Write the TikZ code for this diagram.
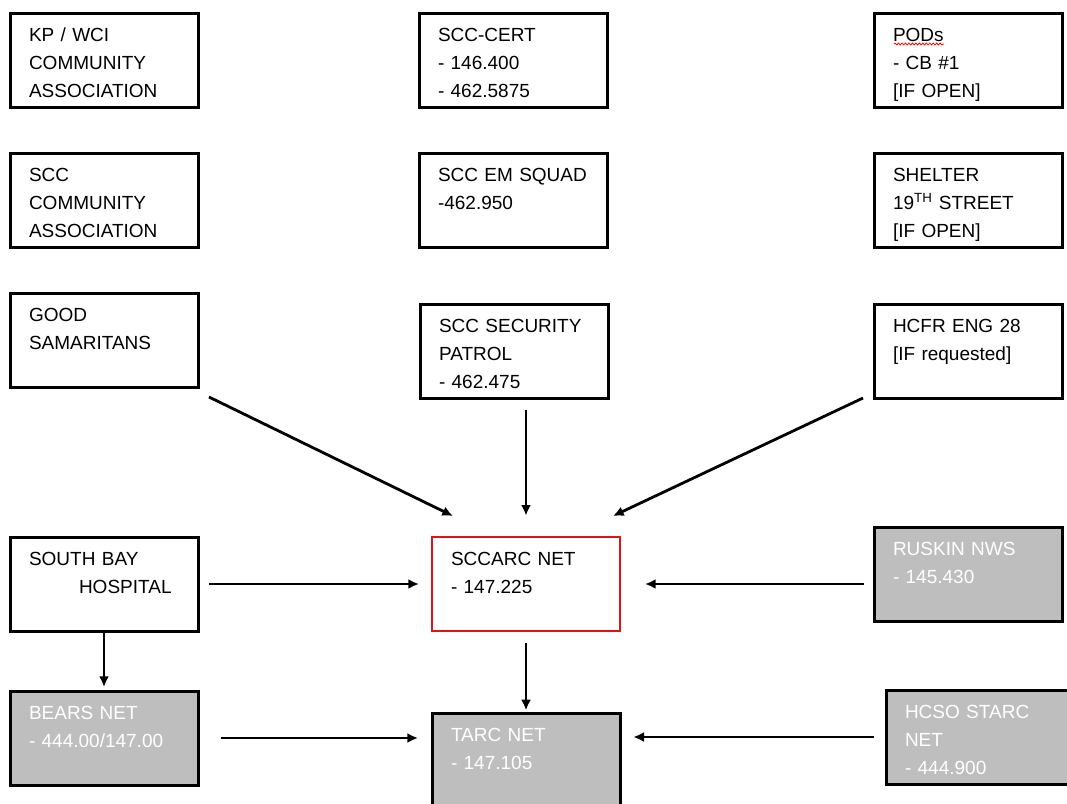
\documentclass[tikz,border=0pt]{standalone}
\usepackage{fontspec}
\setmainfont{Liberation Sans}
\usetikzlibrary{arrows.meta,decorations.pathmorphing}
\definecolor{netgray}{RGB}{190,190,190}
\definecolor{hubred}{RGB}{225,20,20}
\tikzset{
  orgbox/.style={draw, line width=2.25pt, anchor=north west, outer sep=0pt,
    align=left, text width=112.5pt, inner xsep=14.25pt, inner ysep=11.25pt,
    text height=10.2pt, text depth=37.8pt,
    font=\fontsize{14.25pt}{21pt}\selectfont},
  netbox/.style={orgbox, fill=netgray, text=white},
  hubbox/.style={orgbox, draw=hubred, line width=1.8pt},
  >={Latex[length=8pt,width=7.5pt]}
}
\begin{document}
\begin{tikzpicture}[x=0.75pt, y=-0.75pt, line width=2.1pt]
        \useasboundingbox[fill=white] (0,0) rectangle (1067,803);
        \node[orgbox] (kp) at (10,13) {KP / WCI\\COMMUNITY\\ASSOCIATION};
        \node[orgbox] (scccom) at (10,153) {SCC\\COMMUNITY\\ASSOCIATION};
        \node[orgbox] (gs) at (10,293) {GOOD\\SAMARITANS};
        \node[orgbox] (cert) at (419,13) {SCC-CERT\\- 146.400\\- 462.5875};
        \node[orgbox] (em) at (419,153) {SCC EM SQUAD\\-462.950};
        \node[orgbox] (sec) at (420,304) {SCC SECURITY\\PATROL\\- 462.475};
        \node[orgbox] (pods) at (874,13) {PODs\\- CB \#1\\{[IF OPEN]}};
        \node[orgbox] (shelter) at (874,153) {SHELTER\\19\textsuperscript{TH} STREET\\{[IF OPEN]}};
        \node[orgbox] (hcfr) at (874,304) {HCFR ENG 28\\{[IF requested]}};
        \node[orgbox] (sb) at (10,537) {\fontsize{14.25pt}{18pt}\selectfont SOUTH BAY\\\hspace*{37.5pt}HOSPITAL};
        \node[hubbox] (arc) at (432,537) {SCCARC NET\\- 147.225};
        \node[netbox] (ruskin) at (874,527) {RUSKIN NWS\\- 145.430};
        \node[netbox] (bears) at (10,691) {BEARS NET\\- 444.00/147.00};
        \node[netbox] (tarc) at (432,713) {TARC NET\\- 147.105};
        \node[netbox] (hcso) at (886,690) {HCSO STARC\\NET\\- 444.900};
        \draw[red, line width=0.6pt, decorate, decoration={snake, amplitude=0.7pt, segment length=2.6pt}]
          ([shift={(20,31)}]pods.north west) -- ([shift={(70,31)}]pods.north west);
        \draw[->] ([shift={(11,10)}]gs.south east) -- ([shift={(21,-21)}]arc.north west);
        \draw[->, shorten <=9pt, shorten >=16pt] (arc.north |- sec.south) -- (arc.north);
        \draw[->] ([shift={(-11,0)}]hcfr.south west) -- ([shift={(-7,-21)}]arc.north east);
        \draw[->, shorten <=8.25pt, shorten >=9.75pt] (sb.east) -- (sb.east -| arc.west);
        \draw[->, shorten <=7.5pt, shorten >=18.75pt] (ruskin.west |- arc.east) -- (arc.east);
        \draw[->, shorten >=3pt] (sb.south) -- (bears.north);
        \draw[->, shorten <=9pt, shorten >=2pt] (arc.south) -- (tarc.north);
        \draw[->, shorten <=17pt, shorten >=10.5pt] (bears.east) -- (bears.east -| tarc.west);
        \draw[->, shorten <=9pt, shorten >=10pt] (hcso.west) -- (hcso.west -| tarc.east);
      \end{tikzpicture}
\end{document}
